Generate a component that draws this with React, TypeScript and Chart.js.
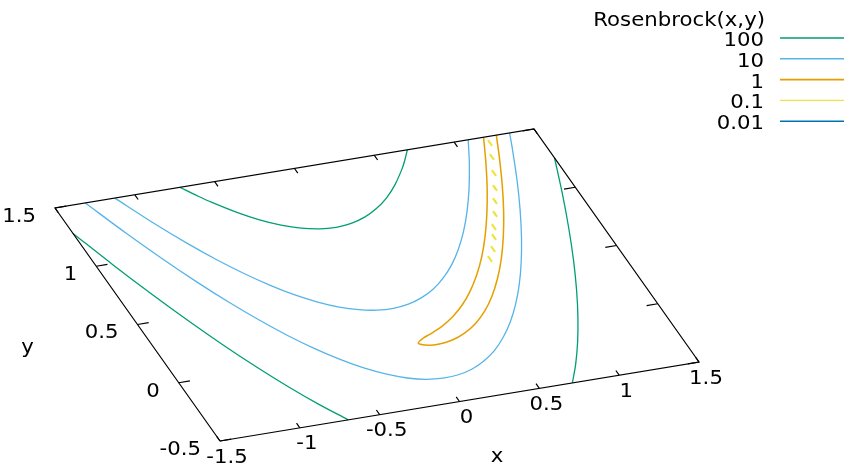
import React, { useEffect, useRef } from "react";
import { Chart, registerables } from "chart.js";

Chart.register(...registerables);

// ---------- data (world coordinates) ----------
const X_MIN = -1.5;
const X_MAX = 1.5;
const Y_MIN = -0.5;
const Y_MAX = 1.5;
const X_TICKS = [-1.5, -1, -0.5, 0, 0.5, 1, 1.5];
const Y_TICKS = [-0.5, 0, 0.5, 1, 1.5];
const X_TICK_LABELS = ["-1.5", "-1", "-0.5", "0", "0.5", "1", "1.5"];
const Y_TICK_LABELS = ["-0.5", "0", "0.5", "1", "1.5"];
const LEGEND_TITLE = "Rosenbrock(x,y)";
const LEVEL_LABELS = ["100", "10", "1", "0.1", "0.01"];
const LEVEL_COLORS = ["#009e73", "#56b4e9", "#e69f00", "#f0e442", "#0072b2"];

// level 100
const c100LeftX = [-1.5, -1.4, -1.3, -1.2, -1.1, -1.0, -0.9, -0.8, -0.7, -0.697];
const c100LeftY = [1.282, 0.989, 0.717, 0.4645, 0.232, 0.02, -0.172, -0.344, -0.495, -0.5];
const c100UpperX = [-0.717, -0.65, -0.6, -0.5, -0.4, -0.3, -0.2, -0.1, 0, 0.1, 0.2, 0.3, 0.4, 0.5, 0.6, 0.65, 0.707];
const c100UpperY = [1.5, 1.409, 1.347, 1.239, 1.15, 1.082, 1.033, 1.004, 0.995, 1.006, 1.037, 1.088, 1.158, 1.249, 1.359, 1.422, 1.5];
const c100RightX = [0.707, 0.8, 0.9, 1.0, 1.1, 1.2, 1.3, 1.4, 1.5];
const c100RightY = [-0.5, -0.36, -0.19, 0.0, 0.21, 0.44, 0.691, 0.961, 1.251];

// level 10
const c10OuterX = [-1.31, -1.2, -1.1, -1.0, -0.9, -0.8, -0.7, -0.6, -0.5, -0.4, -0.3, -0.2, -0.1, 0, 0.1, 0.2, 0.3, 0.4, 0.5, 0.6, 0.7, 0.8, 0.9, 1.0, 1.1, 1.2, 1.3, 1.347];
const c10OuterY = [1.5, 1.213, 0.974, 0.755, 0.557, 0.38, 0.223, 0.087, -0.028, -0.124, -0.198, -0.253, -0.287, -0.3, -0.293, -0.266, -0.218, -0.151, -0.062, 0.046, 0.175, 0.324, 0.494, 0.684, 0.894, 1.124, 1.375, 1.5];
const c10InnerX = [-1.125, -1.0, -0.9, -0.8, -0.7, -0.6, -0.5, -0.4, -0.3, -0.2, -0.1, 0, 0.1, 0.2, 0.3, 0.4, 0.5, 0.6, 0.7, 0.8, 0.9, 1.0, 1.088];
const c10InnerY = [1.5, 1.245, 1.063, 0.9, 0.757, 0.633, 0.528, 0.444, 0.378, 0.333, 0.307, 0.3, 0.313, 0.346, 0.398, 0.471, 0.562, 0.674, 0.805, 0.956, 1.126, 1.316, 1.5];

// level 1
const c1X = [1.184, 1.1, 1.0, 0.9, 0.8, 0.7, 0.6, 0.5, 0.4, 0.3, 0.2, 0.1, 0.05, 0, 0.05, 0.1, 0.2, 0.3, 0.4, 0.5, 0.6, 0.7, 0.8, 0.9, 1.0, 1.1, 1.2, 1.264];
const c1Y = [1.5, 1.31, 1.1, 0.91, 0.738, 0.585, 0.452, 0.337, 0.24, 0.161, 0.1, 0.054, 0.034, 0.0, -0.029, -0.034, -0.02, 0.019, 0.08, 0.163, 0.268, 0.395, 0.542, 0.711, 0.9, 1.111, 1.342, 1.5];

// level 0.1 (small broken pieces along the valley)
const c01X = [1.198, 1.153, 1.101, 1.047, 0.995, 0.944, 0.886, 0.847, 0.794, 0.737];
const c01Y = [1.448, 1.338, 1.213, 1.096, 0.996, 0.896, 0.798, 0.721, 0.63, 0.557];

// level 0.01 (tiny pieces)
const c001X = [1.047, 0.995, 0.944];
const c001Y = [1.096, 0.996, 0.896];

// ---------- view (base plane projection, pixels) ----------
const W = 844;
const H = 467;
const ORIGIN = { x: 220, y: 441 }; // screen position of (X_MIN, Y_MIN)
const EX = { x: 479 / 3, y: -79 / 3 }; // screen step per unit x
const EY = { x: -165 / 2, y: -233 / 2 }; // screen step per unit y

function project(x: number, y: number) {
  const u = x - X_MIN;
  const v = y - Y_MIN;
  return { x: ORIGIN.x + u * EX.x + v * EY.x, y: ORIGIN.y + u * EX.y + v * EY.y };
}

type P = { x: number; y: number | null };

function curve(xs: number[], ys: number[]): P[] {
  return xs.map((x, i) => project(x, ys[i]));
}

function pieces(xs: number[], ys: number[], half: number): P[] {
  const out: P[] = [];
  xs.forEach((x, i) => {
    const a = project(x, ys[i] + half);
    const b = project(x, ys[i] - half);
    out.push(a, b, { x: b.x, y: null });
  });
  return out;
}

function frame(): P[] {
  return [
    project(X_MIN, Y_MIN),
    project(X_MAX, Y_MIN),
    project(X_MAX, Y_MAX),
    project(X_MIN, Y_MAX),
    project(X_MIN, Y_MIN),
  ];
}

const XTIC = 0.04;
const YTIC = 0.07;

function ticks(): P[] {
  const out: P[] = [];
  X_TICKS.forEach((t) => {
    const a = project(t, Y_MIN);
    const b = project(t, Y_MIN + XTIC);
    const c = project(t, Y_MAX);
    const d = project(t, Y_MAX - XTIC);
    out.push(a, b, { x: b.x, y: null }, c, d, { x: d.x, y: null });
  });
  Y_TICKS.forEach((t) => {
    const a = project(X_MIN, t);
    const b = project(X_MIN + YTIC, t);
    const c = project(X_MAX, t);
    const d = project(X_MAX - YTIC, t);
    out.push(a, b, { x: b.x, y: null }, c, d, { x: d.x, y: null });
  });
  return out;
}

const FONT = "19.5px 'DejaVu Sans', sans-serif";
const STRETCH = 1.09;

function drawText(ctx: CanvasRenderingContext2D, text: string, x: number, y: number, align: CanvasTextAlign) {
  ctx.save();
  ctx.translate(x, y);
  ctx.scale(STRETCH, 1);
  ctx.textAlign = align;
  ctx.fillText(text, 0, 0);
  ctx.restore();
}

const textPlugin = {
  id: "gnuplotText",
  afterDatasetsDraw(chart: any) {
    const ctx = chart.ctx as CanvasRenderingContext2D;
    const sx = chart.scales.x;
    const sy = chart.scales.y;
    const px = (p: { x: number; y: number }) => ({ x: sx.getPixelForValue(p.x), y: sy.getPixelForValue(p.y) });
    ctx.save();
    ctx.fillStyle = "#000";
    ctx.font = FONT;
    ctx.textBaseline = "alphabetic";
    // x tick labels
    X_TICKS.forEach((t, i) => {
      const p = px(project(t, Y_MIN));
      drawText(ctx, X_TICK_LABELS[i], p.x + 7, p.y + 21.5, "center");
    });
    // y tick labels
    Y_TICKS.forEach((t, i) => {
      const p = px(project(X_MIN, t));
      drawText(ctx, Y_TICK_LABELS[i], p.x - 19, p.y + 13.8, "right");
    });
    // axis labels
    const xl = px(project((X_MIN + X_MAX) / 2, Y_MIN));
    drawText(ctx, "x", xl.x + 37.5, xl.y + 60, "center");
    const yl = px(project(X_MIN, (Y_MIN + Y_MAX) / 2));
    drawText(ctx, "y", yl.x - 110, yl.y + 28, "center");
    // legend
    const right = chart.chartArea.right;
    drawText(ctx, LEGEND_TITLE, right - 79, 25.5, "right");
    LEVEL_LABELS.forEach((lab, i) => {
      const base = 46 + i * 20.8;
      ctx.fillStyle = "#000";
      drawText(ctx, lab, right - 80, base, "right");
      ctx.strokeStyle = LEVEL_COLORS[i];
      ctx.lineWidth = i === 2 ? 1.8 : 1.4;
      ctx.beginPath();
      ctx.moveTo(right - 64, base - 8);
      ctx.lineTo(right, base - 8);
      ctx.stroke();
    });
    ctx.restore();
  },
};

function line(data: P[], color: string, width: number, tension: number) {
  return {
    data,
    showLine: true,
    borderColor: color,
    backgroundColor: color,
    borderWidth: width,
    pointRadius: 0,
    tension,
    spanGaps: false,
    fill: false,
  };
}

export default function App() {
  const ref = useRef<HTMLCanvasElement | null>(null);
  useEffect(() => {
    document.body.style.margin = "0";
    const canvas = ref.current!;
    const datasets = [
      line(frame(), "#000", 1.2, 0),
      line(ticks(), "#000", 1.2, 0),
      line(curve(c100LeftX, c100LeftY), LEVEL_COLORS[0], 1.3, 0.3),
      line(curve(c100UpperX, c100UpperY), LEVEL_COLORS[0], 1.3, 0.3),
      line(curve(c100RightX, c100RightY), LEVEL_COLORS[0], 1.3, 0.3),
      line(curve(c10OuterX, c10OuterY), LEVEL_COLORS[1], 1.3, 0.3),
      line(curve(c10InnerX, c10InnerY), LEVEL_COLORS[1], 1.3, 0.3),
      line(curve(c1X, c1Y), LEVEL_COLORS[2], 1.5, 0.3),
      line(pieces(c01X, c01Y, 0.025), LEVEL_COLORS[3], 2.2, 0),
      line(pieces(c001X, c001Y, 0.006), LEVEL_COLORS[4], 1.5, 0),
    ];
    const chart = new Chart(canvas, {
      type: "scatter",
      data: { datasets: datasets as any },
      options: {
        animation: false,
        responsive: false,
        devicePixelRatio: 1,
        layout: { padding: 0 },
        plugins: { legend: { display: false }, tooltip: { enabled: false } },
        scales: {
          x: { type: "linear", min: 0, max: W, display: false },
          y: { type: "linear", min: 0, max: H, reverse: true, display: false },
        },
      },
      plugins: [textPlugin],
    });
    return () => chart.destroy();
  }, []);
  return <canvas ref={ref} width={W} height={H} style={{ display: "block" }} />;
}
